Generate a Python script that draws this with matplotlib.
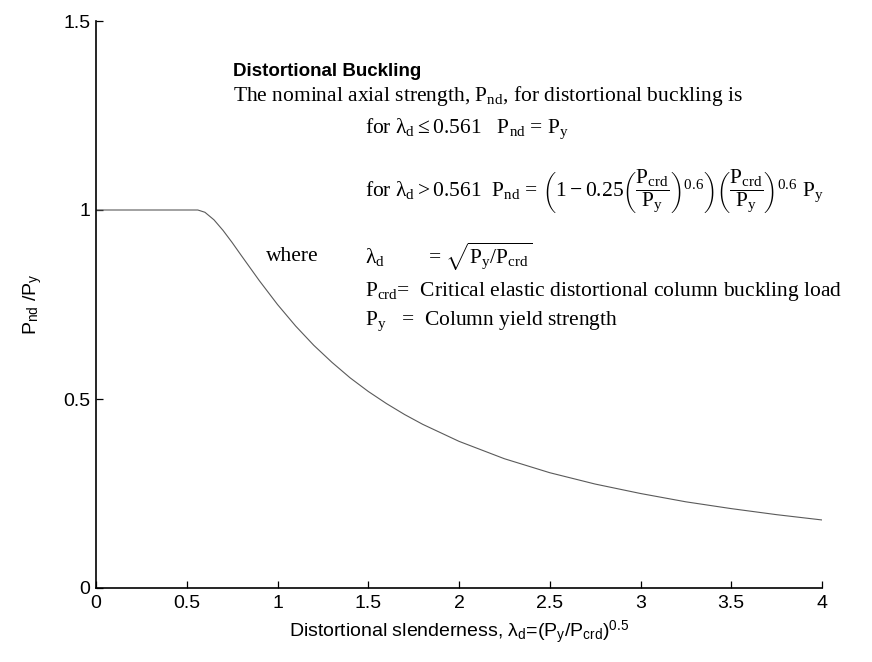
import matplotlib
matplotlib.use("Agg")
import matplotlib.pyplot as plt

# ---- data ----
slenderness = [0.0, 0.561, 0.6, 0.65, 0.7, 0.75, 0.8, 0.9, 1.0, 1.1, 1.2, 1.3, 1.4, 1.5,
               1.6, 1.7, 1.8, 2.0, 2.25, 2.5, 2.75, 3.0, 3.25, 3.5, 3.75, 4.0]
strength_ratio = [1.0, 1.0, 0.994, 0.974, 0.946, 0.914, 0.880, 0.813, 0.750, 0.693, 0.642,
                  0.597, 0.556, 0.520, 0.488, 0.459, 0.433, 0.388, 0.342, 0.305, 0.275,
                  0.250, 0.228, 0.210, 0.194, 0.180]
x_ticks = [0, 0.5, 1, 1.5, 2, 2.5, 3, 3.5, 4]
x_tick_labels = ["0", "0.5", "1", "1.5", "2", "2.5", "3", "3.5", "4"]
y_ticks = [0, 0.5, 1, 1.5]
y_tick_labels = ["0", "0.5", "1", "1.5"]

plt.rcParams['mathtext.fontset'] = 'custom'
plt.rcParams['mathtext.rm'] = 'Liberation Serif'
plt.rcParams['mathtext.it'] = 'Liberation Serif'
plt.rcParams['mathtext.bf'] = 'Liberation Serif:bold'
plt.rcParams['mathtext.sf'] = 'Liberation Sans'
plt.rcParams['font.family'] = ['Liberation Sans', 'DejaVu Sans']

W, H = 872, 662
fig = plt.figure(figsize=(W / 100, H / 100), dpi=100)
ax = fig.add_axes([96 / W, 1 - 588 / H, (822 - 96) / W, (588 - 21) / H])

ax.plot(slenderness, strength_ratio, color='#5a5a5a', lw=0.8)
ax.set_xlim(0, 4)
ax.set_ylim(0, 1.5)
ax.set_xticks(x_ticks)
ax.set_xticklabels(x_tick_labels)
ax.set_yticks(y_ticks)
ax.set_yticklabels(y_tick_labels)
ax.tick_params(direction='in', length=5, width=0.9, labelsize=14)
ax.tick_params(axis='x', pad=5)
ax.tick_params(axis='y', pad=4)
for s in ['top', 'right']:
    ax.spines[s].set_visible(False)
for s in ['left', 'bottom']:
    ax.spines[s].set_linewidth(1.2)

ax.set_xlabel(r'Distortional slenderness, $\mathsf{\lambda_d}$=(P$_\mathsf{y}$/P$_\mathsf{crd}$)$^\mathsf{0.5}$',
              fontsize=14, labelpad=5)
ax.set_ylabel(r'P$_\mathsf{nd}$ /P$_\mathsf{y}$', fontsize=14, labelpad=14)


def ftext(px, py, s, **kw):
    fig.text(px / W, 1 - py / H, s, va='center', ha='left', **kw)


serif = ['Liberation Serif', 'DejaVu Serif']
fs = 15.5
ftext(233, 71, 'Distortional Buckling', family=['Liberation Sans Narrow', 'Liberation Sans'],
      fontweight='bold', fontsize=13.5)
ftext(233, 96, r'The nominal axial strength, P$_{\rm nd}$, for distortional buckling is',
      family=serif, fontsize=fs)
ftext(365, 129, r'for $\lambda_{\rm d} \leq 0.561$   P$_{\rm nd}$ = P$_{\rm y}$',
      family=serif, fontsize=fs)
ftext(365, 192, r'for $\lambda_{\rm d} > 0.561$  P$_{\rm nd}$ = '
      r'$\left(1-0.25\left(\dfrac{P_{crd}}{P_y}\right)^{0.6}\right)\left(\dfrac{P_{crd}}{P_y}\right)^{0.6}\ P_y$',
      family=serif, fontsize=fs)
ftext(266, 257, 'where', family=serif, fontsize=fs)
ftext(365, 257, r'$\lambda_{\rm d}$', family=serif, fontsize=fs)
ftext(428, 257, r'= $\sqrt{P_y/P_{crd}}$', family=serif, fontsize=fs)
ftext(365, 291, r'P$_{\rm crd}$=  Critical elastic distortional column buckling load',
      family=serif, fontsize=fs)
ftext(365, 321, r'P$_{\rm y}$   =  Column yield strength', family=serif, fontsize=fs)

fig.savefig('out.png', dpi=100)
